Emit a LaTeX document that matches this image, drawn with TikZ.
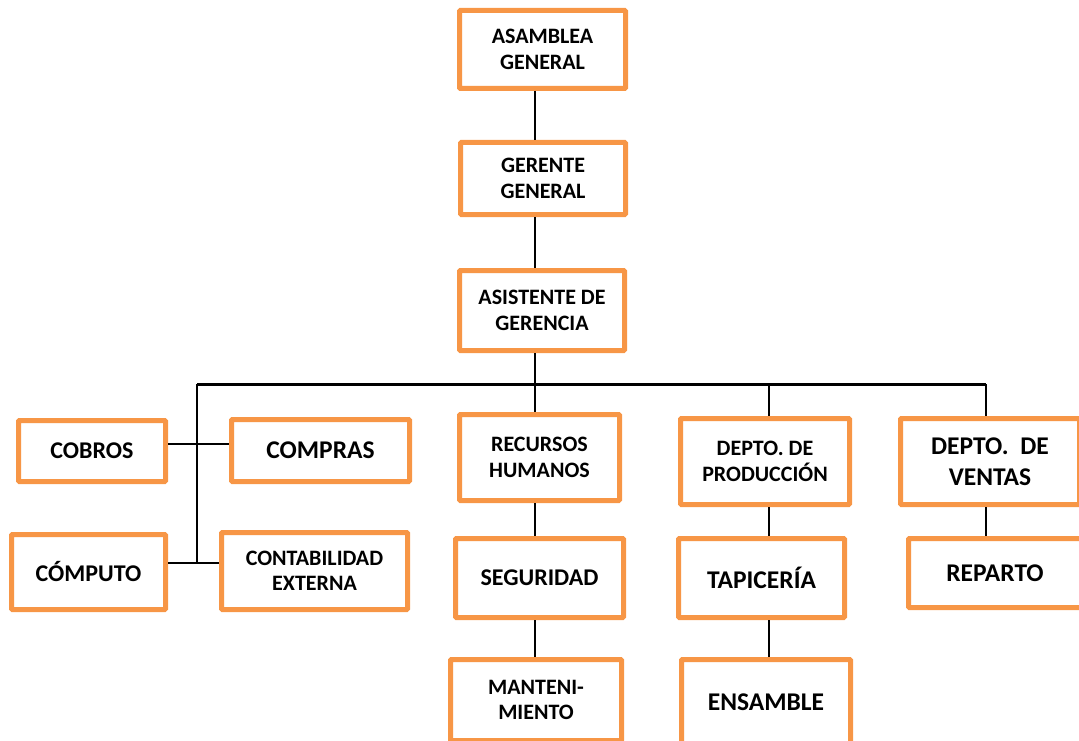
\documentclass[tikz,border=0pt]{standalone}
\usepackage{fontspec}
\setmainfont{Carlito}
\definecolor{boxorange}{HTML}{F79646}
\begin{document}
\begin{tikzpicture}[x=1pt,y=-1pt,
  box/.style={draw=boxorange, line width=5pt, fill=white, rounded corners=1pt, align=center, inner sep=0pt, font=\bfseries\fontsize{22}{25.5}\selectfont},
  medtext/.style={font=\bfseries\fontsize{24}{27}\selectfont},
  bigtext/.style={font=\bfseries\fontsize{25.5}{31}\selectfont},
  conn/.style={draw=black, line width=2pt},
  bar/.style={draw=black, line width=3pt}]
\useasboundingbox (0,0) rectangle (1079,741);
\clip (0,0) rectangle (1079,741);
% nodes
\node[box, minimum width=166pt, minimum height=78pt] (asamblea) at (542.5,49.5) {ASAMBLEA\\GENERAL};
\node[box, minimum width=165pt, minimum height=72pt] (gerente) at (543,178.5) {GERENTE\\GENERAL};
\node[box, minimum width=165pt, minimum height=80pt] (asistente) at (542,310.5) {ASISTENTE DE\\GERENCIA};
\node[box, medtext, minimum width=147pt, minimum height=61pt] (cobros) at (92,451) {COBROS};
\node[box, bigtext, minimum width=178pt, minimum height=62pt] (compras) at (320.5,450.5) {COMPRAS};
\node[box, medtext, minimum width=154pt, minimum height=75pt] (computo) at (88.5,572) {CÓMPUTO};
\node[box, minimum width=186pt, minimum height=77pt] (contab) at (314.5,571) {CONTABILIDAD\\EXTERNA};
\node[box, minimum width=160pt, minimum height=86pt] (rrhh) at (539.5,457.5) {RECURSOS\\HUMANOS};
\node[box, medtext, minimum width=168pt, minimum height=79pt] (seguridad) at (539.5,578) {SEGURIDAD};
\node[box, minimum width=171pt, minimum height=81pt] (mant) at (536,700) {MANTENI-\\MIENTO};
\node[box, minimum width=169pt, minimum height=86pt] (prod) at (765,461.5) {DEPTO. DE\\PRODUCCIÓN};
\node[box, bigtext, minimum width=166pt, minimum height=79pt] (tapiceria) at (761.5,578) {TAPICERÍA};
\node[box, bigtext, minimum width=169pt, minimum height=85pt] (ensamble) at (766,702) {ENSAMBLE};
\node[box, bigtext, minimum width=179pt, minimum height=86pt] (ventas) at (990,461.5) {DEPTO.~~DE\\VENTAS};
\node[box, bigtext, minimum width=173pt, minimum height=69pt] (reparto) at (995,573) {REPARTO};
% reference coordinates
\coordinate (tx) at (535,0);
\coordinate (px) at (769,0);
\coordinate (vx) at (986,0);
\coordinate (lx) at (197,0);
\coordinate (bary) at (0,384);
\coordinate (barL) at (197,384);
\coordinate (barR) at (986,384);
\coordinate (upy) at (0,444);
\coordinate (lowy) at (0,563);
% connectors
\draw[conn] (asamblea.south -| tx) -- (gerente.north -| tx);
\draw[conn] (gerente.south -| tx) -- (asistente.north -| tx);
\draw[conn] (asistente.south -| tx) -- (bary -| tx);
\draw[bar] (barL) -- (barR);
\draw[conn] (bary -| tx) -- (rrhh.north -| tx);
\draw[conn] (bary -| px) -- (prod.north -| px);
\draw[conn] (barR) -- (ventas.north -| vx);
\draw[conn] (barL) -- (lowy -| lx);
\draw[conn] (cobros.east |- upy) -- (compras.west |- upy);
\draw[conn] (computo.east |- lowy) -- (contab.west |- lowy);
\draw[conn] (rrhh.south -| tx) -- (seguridad.north -| tx);
\draw[conn] (seguridad.south -| tx) -- (mant.north -| tx);
\draw[conn] (prod.south -| px) -- (tapiceria.north -| px);
\draw[conn] (tapiceria.south -| px) -- (ensamble.north -| px);
\draw[conn] (ventas.south -| vx) -- (reparto.north -| vx);
\end{tikzpicture}
\end{document}
